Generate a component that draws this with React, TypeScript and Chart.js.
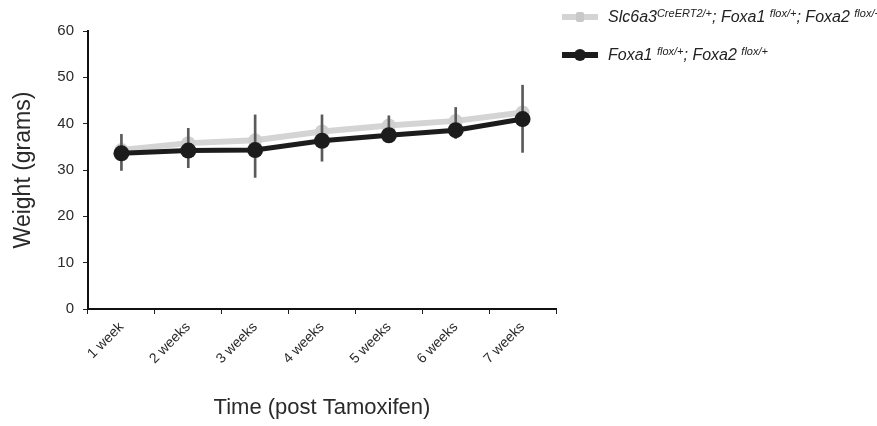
import React, { useEffect, useRef } from "react";
import { Chart, registerables } from "chart.js";

Chart.register(...registerables);

const categories = ["1 week", "2 weeks", "3 weeks", "4 weeks", "5 weeks", "6 weeks", "7 weeks"];
const creValues = [34.3, 35.8, 36.4, 38.3, 39.6, 40.6, 42.4];
const controlValues = [33.6, 34.2, 34.3, 36.3, 37.5, 38.6, 41.0];
const errLow = [29.9, 30.5, 28.4, 31.9, 36.5, 36.8, 33.8];
const errHigh = [37.7, 39.0, 41.9, 41.9, 41.7, 43.5, 48.3];
const yTicks = [0, 10, 20, 30, 40, 50, 60];

const FONT = "'Liberation Sans', Arial, sans-serif";
const TEXT = "#2a2a2a";

export default function App() {
  const ref = useRef<HTMLCanvasElement | null>(null);

  useEffect(() => {
    if (!ref.current) return;
    const chart = new Chart(ref.current, {
      type: "line",
      data: {
        labels: categories,
        datasets: [
          {
            type: "line",
            label: "Slc6a3 CreERT2/+; Foxa1 flox/+; Foxa2 flox/+",
            data: creValues,
            borderColor: "#d4d4d4",
            backgroundColor: "#d4d4d4",
            borderWidth: 6,
            pointRadius: 7,
            pointBorderWidth: 0,
            pointBackgroundColor: "#d0d0d0",
            order: 3,
          } as any,
          {
            type: "bar",
            label: "error",
            data: errLow.map((l, i) => [l, errHigh[i]]),
            backgroundColor: "#5a5a5a",
            borderWidth: 0,
            barThickness: 2,
            order: 2,
          } as any,
          {
            type: "line",
            label: "Foxa1 flox/+; Foxa2 flox/+",
            data: controlValues,
            borderColor: "#1c1c1c",
            backgroundColor: "#1c1c1c",
            borderWidth: 5,
            pointRadius: 8,
            pointBorderWidth: 0,
            pointBackgroundColor: "#1c1c1c",
            order: 1,
          } as any,
        ],
      },
      options: {
        animation: false,
        responsive: false,
        maintainAspectRatio: false,
        layout: { padding: { top: 31, right: 321, bottom: 0, left: 0 } },
        plugins: { legend: { display: false }, tooltip: { enabled: false } },
        scales: {
          x: {
            type: "category",
            offset: true,
            grid: {
              offset: true,
              drawOnChartArea: false,
              drawTicks: true,
              tickLength: 5,
              color: "#222",
              lineWidth: 1,
            },
            border: { display: true, color: "#111", width: 2 },
            ticks: {
              color: TEXT,
              font: { family: FONT, size: 14 },
              maxRotation: 45,
              minRotation: 45,
              padding: 5,
            },
            title: {
              display: true,
              text: "Time (post Tamoxifen)",
              color: TEXT,
              font: { family: FONT, size: 22 },
              padding: { top: 0, bottom: 5 },
            },
            afterFit: (s: any) => {
              s.height = 117;
            },
          },
          y: {
            min: 0,
            max: 60,
            afterBuildTicks: (s: any) => {
              s.ticks = yTicks.map((v) => ({ value: v }));
            },
            grid: {
              drawOnChartArea: false,
              drawTicks: true,
              tickLength: 5,
              color: "#222",
              lineWidth: 1,
            },
            border: { display: true, color: "#111", width: 2 },
            ticks: {
              color: TEXT,
              font: { family: FONT, size: 15 },
              padding: 9,
            },
            title: {
              display: true,
              text: "Weight (grams)",
              color: TEXT,
              font: { family: FONT, size: 23 },
              padding: { top: 10, bottom: 0 },
            },
            afterFit: (s: any) => {
              s.width = 88;
            },
          },
        },
      },
    });
    return () => chart.destroy();
  }, []);

  const legendText: React.CSSProperties = {
    position: "absolute",
    left: 608,
    fontFamily: FONT,
    fontStyle: "italic",
    fontSize: 16,
    color: "#222",
    whiteSpace: "nowrap",
    lineHeight: "18px",
  };
  const sup: React.CSSProperties = { fontSize: 11, verticalAlign: "5px", lineHeight: 0 };

  return (
    <div style={{ position: "fixed", left: 0, top: 0, width: 877, height: 426, background: "#fff" }}>
      <canvas ref={ref} width={877} height={426} style={{ display: "block", width: 877, height: 426 }} />
      <div style={{ position: "absolute", left: 562, top: 14, width: 36, height: 6, background: "#d4d4d4" }} />
      <div style={{ position: "absolute", left: 576, top: 12, width: 8, height: 10, background: "#c8c8c8", borderRadius: 2 }} />
      <div style={{ ...legendText, top: 8 }}>
        Slc6a3<span style={sup}>CreERT2/+</span>; Foxa1 <span style={sup}>flox/+</span>; Foxa2 <span style={sup}>flox/+</span>
      </div>
      <div style={{ position: "absolute", left: 562, top: 52, width: 36, height: 6, background: "#1c1c1c" }} />
      <div style={{ position: "absolute", left: 574, top: 49, width: 12, height: 12, background: "#1c1c1c", borderRadius: "50%" }} />
      <div style={{ ...legendText, top: 46 }}>
        Foxa1 <span style={sup}>flox/+</span>; Foxa2 <span style={sup}>flox/+</span>
      </div>
    </div>
  );
}
